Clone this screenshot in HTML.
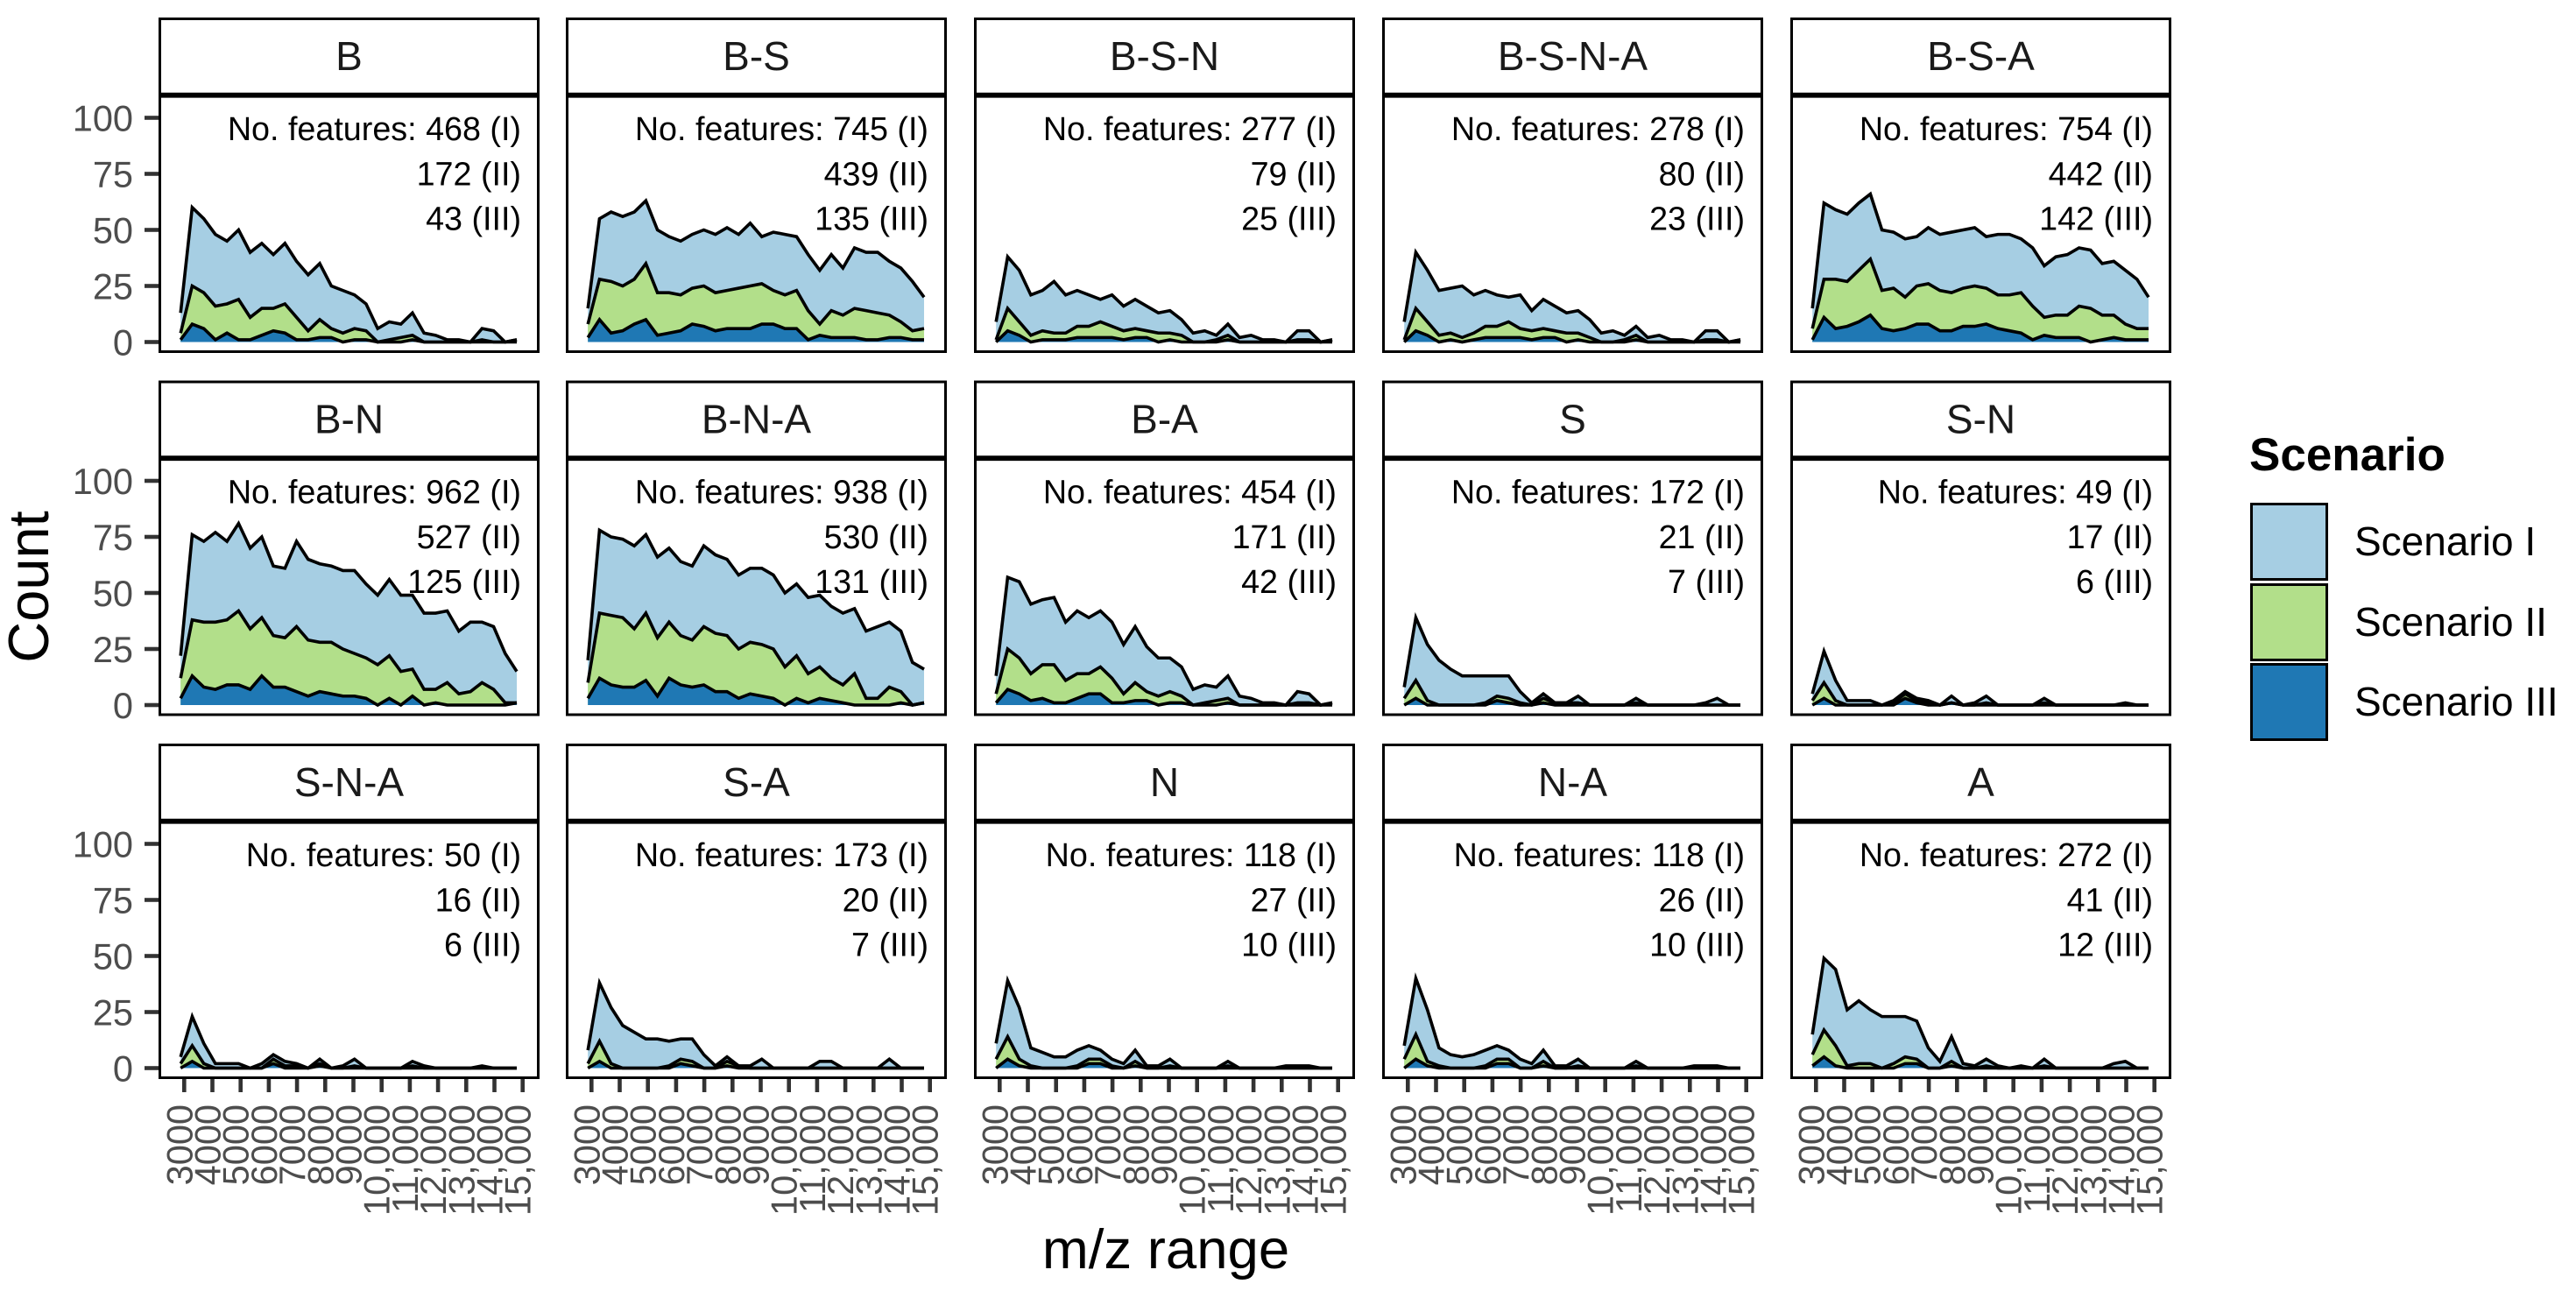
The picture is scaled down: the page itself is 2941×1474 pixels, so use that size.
<!DOCTYPE html>
<html lang="en">
<head>
<meta charset="utf-8">
<title>Feature counts by m/z range</title>
<style>
html,body{margin:0;padding:0;background:#fff;}
svg{display:block;font-family:"Liberation Sans",Arial,sans-serif;}
</style>
</head>
<body>
<svg id="chart" xmlns="http://www.w3.org/2000/svg" width="2941" height="1474" viewBox="0 0 2941 1474">
  <rect x="0" y="0" width="2941" height="1474" fill="#ffffff"/>
  <g id="panels"></g>
  <text transform="translate(55,670) rotate(-90)" text-anchor="middle" font-size="65" fill="#000">Count</text>
  <text x="1331" y="1448" text-anchor="middle" font-size="63.5" fill="#000">m/z range</text>
  <g>
    <text x="2568" y="537" font-size="53" font-weight="bold" fill="#000">Scenario</text>
    <rect x="2570.5" y="575.5" width="86" height="86" fill="#A6CEE3" stroke="#000" stroke-width="3"/>
    <rect x="2570.5" y="667.5" width="86" height="86" fill="#B2DF8A" stroke="#000" stroke-width="3"/>
    <rect x="2570.5" y="758.5" width="86" height="86" fill="#1F78B4" stroke="#000" stroke-width="3"/>
    <text x="2688" y="634" font-size="46" fill="#000">Scenario I</text>
    <text x="2688" y="726" font-size="46" fill="#000">Scenario II</text>
    <text x="2688" y="817" font-size="46" fill="#000">Scenario III</text>
  </g>
</svg>
<script>
// ---- categories and tick labels ----
const panelTitles = ["B","B-S","B-S-N","B-S-N-A","B-S-A","B-N","B-N-A","B-A","S","S-N","S-N-A","S-A","N","N-A","A"];
const featuresI   = [468,745,277,278,754,962,938,454,172,49,50,173,118,118,272];
const featuresII  = [172,439,79,80,442,527,530,171,21,17,16,20,27,26,41];
const featuresIII = [43,135,25,23,142,125,131,42,7,6,6,7,10,10,12];
const mzBins = [2873,3284,3695,4106,4517,4928,5339,5750,6161,6572,6983,7394,7805,8216,8627,9038,9449,9860,10271,10682,11093,11504,11915,12326,12737,13148,13559,13970,14381,14792];
const xTickValues = [3000,4000,5000,6000,7000,8000,9000,10000,11000,12000,13000,14000,15000];
const xTickLabels = ["3000","4000","5000","6000","7000","8000","9000","10,000","11,000","12,000","13,000","14,000","15,000"];
const yTickValues = [0,25,50,75,100];

// ---- stacked levels per m/z bin: I = top of stack, II = middle, III = bottom ----
const B_I   = [13,60,55,48,45,50,40,44,39,44,36,30,35,25,23,21,17,6,9,8,13,4,3,1,1,0,6,5,0,1];
const B_II  = [4,25,22,16,17,19,11,15,15,17,11,5,10,6,4,6,5,0,1,2,3,0,0,0,0,0,1,0,0,1];
const B_III = [1,8,6,1,4,1,1,3,5,4,1,1,2,2,0,1,1,0,0,0,1,0,0,0,0,0,0,0,0,0];

const BS_I   = [15,55,58,56,58,63,50,47,45,48,50,48,51,48,53,47,49,48,47,39,32,39,33,42,40,40,36,33,27,20];
const BS_II  = [8,28,27,25,28,35,22,22,21,24,25,22,23,24,25,26,23,21,23,14,8,14,12,15,14,13,12,9,5,6];
const BS_III = [2,10,4,5,8,10,3,4,5,8,7,5,6,6,6,8,8,6,6,1,3,2,2,2,1,1,2,2,1,1];

const BSN_I   = [9,38,32,21,23,27,21,23,21,19,21,16,19,16,13,14,10,4,5,3,8,2,3,1,1,0,5,5,0,1];
const BSN_II  = [1,15,9,3,5,4,4,7,7,9,7,5,6,5,4,4,3,0,0,1,3,0,0,0,0,0,1,1,0,1];
const BSN_III = [0,5,3,0,1,1,1,2,2,2,2,1,2,2,0,1,0,0,0,0,1,0,0,0,0,0,0,0,0,0];

const BSNA_I   = [9,40,32,23,24,25,21,23,21,20,21,14,19,16,13,14,10,4,5,3,7,2,3,1,1,0,5,5,0,1];
const BSNA_II  = [1,15,9,3,4,2,4,7,7,9,6,5,6,5,4,4,2,0,0,1,3,0,0,0,0,0,1,1,0,1];
const BSNA_III = [0,5,3,0,1,0,1,2,2,2,2,1,2,2,0,1,0,0,0,0,1,0,0,0,0,0,0,0,0,0];

const BSA_I   = [15,62,59,57,62,66,50,49,46,47,51,48,49,50,51,47,48,48,46,42,34,38,39,42,41,35,36,32,28,20];
const BSA_II  = [6,28,28,27,32,37,23,24,20,25,26,23,22,24,25,24,21,21,22,16,11,12,12,16,15,12,12,8,6,6];
const BSA_III = [1,11,6,7,9,12,6,5,6,8,8,5,5,7,7,8,6,5,4,1,3,2,2,2,0,1,2,1,1,1];

const BN_I   = [22,76,73,77,73,81,70,75,62,61,73,65,63,62,60,60,54,49,56,49,49,41,41,42,33,37,37,35,23,15];
const BN_II  = [12,38,37,37,38,42,34,39,31,30,35,29,28,28,25,23,21,18,22,15,16,7,7,10,5,6,10,7,1,1];
const BN_III = [3,13,8,7,9,9,7,13,8,8,6,4,6,5,4,4,3,0,3,0,4,0,1,0,0,0,0,0,0,1];

const BNA_I   = [20,78,75,74,71,76,66,70,64,62,71,67,65,58,61,61,58,50,54,48,49,44,41,43,33,35,37,33,19,16];
const BNA_II  = [10,41,40,39,34,41,30,37,31,29,35,32,31,25,28,27,25,17,22,14,17,12,9,14,3,3,8,6,0,1];
const BNA_III = [3,12,9,8,8,11,4,12,9,8,9,6,6,3,5,4,3,0,3,1,3,2,1,0,0,0,0,1,0,1];

const BA_I   = [13,57,55,45,47,48,37,42,39,42,37,27,35,26,21,21,17,7,9,8,13,4,3,1,1,0,6,5,0,1];
const BA_II  = [5,25,21,14,18,18,11,14,14,17,12,5,10,6,4,6,4,0,1,2,3,0,0,0,0,0,1,1,0,1];
const BA_III = [1,7,5,2,3,1,1,3,5,5,1,1,2,2,0,1,1,0,0,0,1,0,0,0,0,0,0,0,0,0];

const S_I   = [8,39,27,20,16,13,13,13,13,13,6,1,5,1,1,4,0,0,0,0,3,0,0,0,0,0,1,3,0,0];
const S_II  = [3,11,2,0,0,0,0,1,4,3,1,0,3,1,1,1,0,0,0,0,1,0,0,0,0,0,0,0,0,0];
const S_III = [0,3,0,0,0,0,0,0,2,1,0,0,1,0,0,0,0,0,0,0,0,0,0,0,0,0,0,0,0,0];

const SN_I   = [5,24,11,2,2,2,0,2,6,3,2,0,4,0,1,4,0,0,0,0,3,0,0,0,0,0,0,1,0,0];
const SN_II  = [2,10,2,0,0,0,0,1,5,2,1,0,1,0,0,1,0,0,0,0,1,0,0,0,0,0,0,0,0,0];
const SN_III = [0,3,0,0,0,0,0,0,3,1,0,0,1,0,0,0,0,0,0,0,0,0,0,0,0,0,0,0,0,0];

const SNA_I   = [5,23,11,2,2,2,0,2,6,3,2,0,4,0,1,4,0,0,0,0,3,1,0,0,0,0,1,0,0,0];
const SNA_II  = [2,10,2,0,0,0,0,0,4,1,1,0,2,0,0,1,0,0,0,0,1,0,0,0,0,0,0,0,0,0];
const SNA_III = [0,3,0,0,0,0,0,0,2,0,0,0,1,0,0,0,0,0,0,0,0,0,0,0,0,0,0,0,0,0];

const SA_I   = [8,38,27,19,16,13,13,12,13,13,6,1,5,1,1,4,0,0,0,0,3,3,0,0,0,0,4,0,0,0];
const SA_II  = [2,12,2,0,0,0,0,1,4,3,0,0,3,1,0,0,0,0,0,0,0,0,0,0,0,0,0,0,0,0];
const SA_III = [0,3,0,0,0,0,0,0,2,1,0,0,1,0,0,0,0,0,0,0,0,0,0,0,0,0,0,0,0,0];

const N_I   = [11,39,27,9,7,5,5,8,10,8,4,2,8,1,1,4,0,0,0,0,3,0,0,0,0,1,1,1,0,0];
const N_II  = [4,14,4,1,0,0,0,1,4,4,1,0,3,0,0,1,0,0,0,0,1,0,0,0,0,0,0,0,0,0];
const N_III = [0,4,1,0,0,0,0,0,2,2,0,0,1,0,0,0,0,0,0,0,0,0,0,0,0,0,0,0,0,0];

const NA_I   = [10,40,26,9,6,5,6,8,10,8,4,2,8,1,1,4,0,0,0,0,3,0,0,0,0,1,1,1,0,0];
const NA_II  = [4,15,3,1,0,0,0,1,4,4,0,0,3,0,0,1,0,0,0,0,1,0,0,0,0,0,0,0,0,0];
const NA_III = [0,4,1,0,0,0,0,0,2,2,0,0,1,0,0,0,0,0,0,0,0,0,0,0,0,0,0,0,0,0];

const A_I   = [15,49,44,26,30,26,23,23,23,21,9,3,14,2,1,4,1,0,1,0,4,0,0,0,0,0,2,3,0,0];
const A_II  = [6,17,10,1,2,2,0,2,5,4,0,0,3,0,0,1,0,0,0,0,1,0,0,0,0,0,0,0,0,0];
const A_III = [1,5,1,0,0,0,0,0,2,2,0,0,1,0,0,0,0,0,0,0,0,0,0,0,0,0,0,0,0,0];

const seriesByPanel = [
  [B_I,B_II,B_III],[BS_I,BS_II,BS_III],[BSN_I,BSN_II,BSN_III],[BSNA_I,BSNA_II,BSNA_III],[BSA_I,BSA_II,BSA_III],
  [BN_I,BN_II,BN_III],[BNA_I,BNA_II,BNA_III],[BA_I,BA_II,BA_III],[S_I,S_II,S_III],[SN_I,SN_II,SN_III],
  [SNA_I,SNA_II,SNA_III],[SA_I,SA_II,SA_III],[N_I,N_II,N_III],[NA_I,NA_II,NA_III],[A_I,A_II,A_III]
];
const seriesFills = ["#A6CEE3","#B2DF8A","#1F78B4"];

// ---- layout ----
const NS = "http://www.w3.org/2000/svg";
const panelLefts = [181, 646, 1112, 1578, 2044];
const panelTops = [20, 434.5, 849];
const panelW = 435;
const panelH = 383;
const stripH = 88.7;
const y0Offset = 370.5;
const pxPerCount = 2.56;
const tickXStart = 29.3;
const pxPerMz = 32.2 / 1000;

function xScale(mz, left) { return left + tickXStart + (mz - 3000) * pxPerMz; }
function yScale(count, top) { return top + y0Offset - count * pxPerCount; }

function el(tag, attrs, parent) {
  const node = document.createElementNS(NS, tag);
  for (const k in attrs) node.setAttribute(k, attrs[k]);
  parent.appendChild(node);
  return node;
}

const root = document.getElementById("panels");

panelTitles.forEach(function (title, p) {
  const col = p % 5;
  const row = Math.floor(p / 5);
  const left = panelLefts[col];
  const top = panelTops[row];
  const g = el("g", {}, root);
  
  

  // filled stacked areas + outlines
  const series = seriesByPanel[p];
  series.forEach(function (values, s) {
    const pts = values.map(function (v, i) {
      return xScale(mzBins[i], left).toFixed(2) + "," + yScale(v, top).toFixed(2);
    });
    const x0 = xScale(mzBins[0], left).toFixed(2);
    const xN = xScale(mzBins[mzBins.length - 1], left).toFixed(2);
    const base = yScale(0, top).toFixed(2);
    const area = el("path", { d: "M" + x0 + "," + base + "L" + pts.join("L") + "L" + xN + "," + base + "Z", fill: seriesFills[s], stroke: "none" }, g);
    
    
    const line = el("path", { d: "M" + pts.join("L"), fill: "none", stroke: "#000", "stroke-width": 3.6, "stroke-linejoin": "miter", "stroke-miterlimit": 6 }, g);
    
    
  });

  // strip
  const strip = el("rect", { x: left + 1.5, y: top + 1.5, width: panelW - 3, height: stripH - 1.5, fill: "none", stroke: "#000", "stroke-width": 3 }, g);
  
  
  const stripText = el("text", { x: left + panelW / 2, y: top + 60, "text-anchor": "middle", "font-size": 46, fill: "#1a1a1a" }, g);
  stripText.textContent = title;
  
  

  // panel border and thick strip rule
  const border = el("rect", { x: left + 1.5, y: top + stripH, width: panelW - 3, height: panelH - stripH - 1.5, fill: "none", stroke: "#000", "stroke-width": 3 }, g);
  
  
  const rule = el("line", { x1: left, x2: left + panelW, y1: top + stripH, y2: top + stripH, stroke: "#000", "stroke-width": 5.8 }, g);
  
  

  // annotation
  const annX = left + panelW - 21;
  const annLines = ["No. features: " + featuresI[p] + " (I)", featuresII[p] + " (II)", featuresIII[p] + " (III)"];
  annLines.forEach(function (txt, i) {
    const t = el("text", { x: annX, y: top + 140 + i * 51.3, "text-anchor": "end", "font-size": 37.7, fill: "#000" }, g);
    t.textContent = txt;
    
    
  });

  // y axis on first column
  if (col === 0) {
    yTickValues.forEach(function (v) {
      const yy = yScale(v, top);
      const tick = el("line", { x1: left - 16, x2: left, y1: yy, y2: yy, stroke: "#333333", "stroke-width": 4.6 }, g);
      
      
      const lab = el("text", { x: left - 29, y: yy + 15, "text-anchor": "end", "font-size": 41.5, fill: "#4d4d4d" }, g);
      lab.textContent = String(v);
      
      
    });
  }

  // x axis on last row
  if (row === 2) {
    xTickValues.forEach(function (v, i) {
      const xx = xScale(v, left);
      const tick = el("line", { x1: xx, x2: xx, y1: top + panelH, y2: top + panelH + 15, stroke: "#333333", "stroke-width": 4.6 }, g);
      
      
      const lab = el("text", { transform: "translate(" + (xx + 9).toFixed(2) + "," + (top + panelH + 29) + ") rotate(-90)", "text-anchor": "end", "font-size": 41.5, fill: "#4d4d4d" }, g);
      lab.textContent = xTickLabels[i];
      
      
    });
  }
});
</script>
</body>
</html>
